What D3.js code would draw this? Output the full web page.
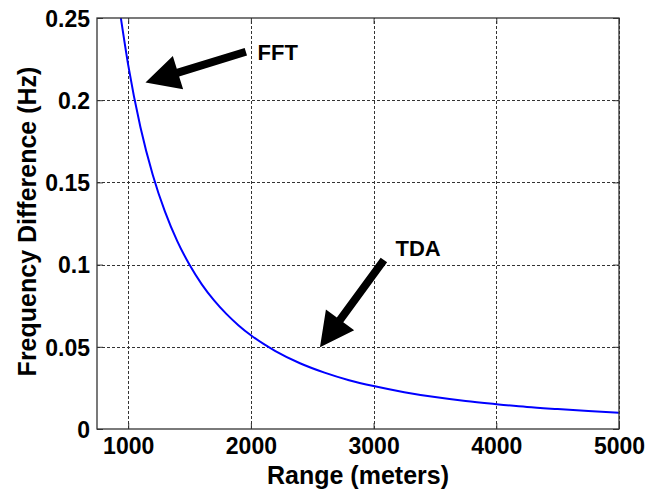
<!DOCTYPE html>
<html><head><meta charset="utf-8">
<script src="https://cdn.jsdelivr.net/npm/d3@7"></script>
<style>body{margin:0;background:#fff}svg{display:block}text{font-family:"Liberation Sans",Arial,sans-serif;font-weight:bold;fill:#000}</style>
</head><body><svg id="c" width="670" height="489"></svg>
<script>
// Data
const rangeM = [940,1000,1100,1200,1300,1400,1500,1600,1700,1800,1900,2000,2200,2400,2600,2800,3000,3250,3500,3750,4000,4250,4500,4750,5000];
const freqDiff = [0.2502,0.2215,0.1836,0.1547,0.1322,0.1143,0.0999,0.0880,0.0782,0.0700,0.0630,0.0570,0.0474,0.0400,0.0343,0.0297,0.0261,0.0224,0.0194,0.0170,0.0151,0.0134,0.0121,0.0109,0.0099];
const xTicks = [1000,2000,3000,4000,5000];
const yTicks = [0,0.05,0.1,0.15,0.2,0.25];
const xDomain = [750,5000];
const yDomain = [0,0.25];
const annLabels = ["FFT","TDA"];
const annText = [[2054,0.2245],[3179,0.1052]];
const annTail = [[1959,0.2295],[3084,0.1028]];
const annTip = [[1141,0.2107],[2563,0.0497]];

const W=670,H=489, m={l:97,r:51,t:18,b:60};
const x=d3.scaleLinear().domain(xDomain).range([m.l+0.5,W-m.r]);
const y=d3.scaleLinear().domain(yDomain).range([H-m.b,m.t]);
const svg=d3.select("#c");
const pw=W-m.r-m.l, x0=m.l, x1=W-m.r, y0=H-m.b, y1=m.t;

svg.append("defs").append("clipPath").attr("id","clip").append("rect")
  .attr("x",x0).attr("y",y1).attr("width",x1-x0).attr("height",y0-y1);

// grid
const g=svg.append("g").attr("stroke","#333").attr("stroke-width",1).attr("stroke-dasharray","3,2");
g.selectAll(".gx").data(xTicks).join("line").attr("x1",d=>Math.round(x(d))+0.5).attr("x2",d=>Math.round(x(d))+0.5).attr("y1",y0).attr("y2",y1);
g.selectAll(".gy").data(yTicks.slice(1,-1)).join("line").attr("y1",d=>Math.round(y(d))+0.5).attr("y2",d=>Math.round(y(d))+0.5).attr("x1",x0).attr("x2",x1);

// curve
const line=d3.line().x((d,i)=>x(rangeM[i])).y(d=>y(d)).curve(d3.curveMonotoneX);
svg.append("path").datum(freqDiff).attr("clip-path","url(#clip)").attr("d",line)
  .attr("fill","none").attr("stroke","#0000ff").attr("stroke-width",2);

// axes
const tl=6;
const xb=svg.append("g").attr("transform",`translate(0,${y0})`).call(d3.axisBottom(x).tickValues(xTicks).tickSizeInner(-tl).tickSizeOuter(0).tickPadding(9).tickFormat(d3.format("d")));
const xt=svg.append("g").attr("transform",`translate(0,${y1})`).call(d3.axisTop(x).tickValues(xTicks).tickSizeInner(-tl).tickSizeOuter(0).tickFormat(""));
const yl=svg.append("g").attr("transform",`translate(${x0},0)`).call(d3.axisLeft(y).tickValues(yTicks).tickSizeInner(-tl).tickSizeOuter(0).tickPadding(7).tickFormat(d=>d===0?"0":String(d)));
const yr=svg.append("g").attr("transform",`translate(${x1},0)`).call(d3.axisRight(y).tickValues(yTicks).tickSizeInner(-tl).tickSizeOuter(0).tickFormat(""));
[xb,xt,yl,yr].forEach(a=>{a.select(".domain").remove();a.selectAll("line").attr("stroke","#333");
  a.selectAll("text").attr("font-size",23).attr("font-family","Liberation Sans, Arial, sans-serif").attr("font-weight","bold").attr("fill","#000");});
xb.selectAll("text").attr("dy",null).attr("y",null).attr("transform","translate(0,25)");
yl.selectAll("text").attr("dy","0.36em");
svg.append("rect").attr("x",x0).attr("y",y1).attr("width",x1-x0).attr("height",y0-y1).attr("fill","none").attr("stroke","#333").attr("stroke-width",1.3);

// axis labels
svg.append("text").attr("x",(x0+x1)/2).attr("y",484).attr("text-anchor","middle").attr("font-size",25).text("Range (meters)");
svg.append("text").attr("transform",`translate(36,${(y0+y1)/2-2}) rotate(-90)`).attr("text-anchor","middle").attr("font-size",25).text("Frequency Difference (Hz)");

// annotations
function arrow(tail,tip){
  const tx=x(tail[0]),ty=y(tail[1]),px=x(tip[0]),py=y(tip[1]);
  const dx=px-tx,dy=py-ty,L=Math.hypot(dx,dy),ux=dx/L,uy=dy/L,nx=-uy,ny=ux;
  const hl=34,hw=17.5,sw=4;
  const bx=px-ux*hl,by=py-uy*hl;
  const pts=[[tx+nx*sw,ty+ny*sw],[bx+nx*sw,by+ny*sw],[bx+nx*hw,by+ny*hw],[px,py],[bx-nx*hw,by-ny*hw],[bx-nx*sw,by-ny*sw],[tx-nx*sw,ty-ny*sw]];
  svg.append("path").attr("d","M"+pts.map(p=>p.join(",")).join("L")+"Z").attr("fill","#000");
}
annLabels.forEach((t,i)=>{
  arrow(annTail[i],annTip[i]);
  svg.append("text").attr("x",x(annText[i][0])).attr("y",y(annText[i][1])).attr("font-size",22).text(t);
});
</script></body></html>
